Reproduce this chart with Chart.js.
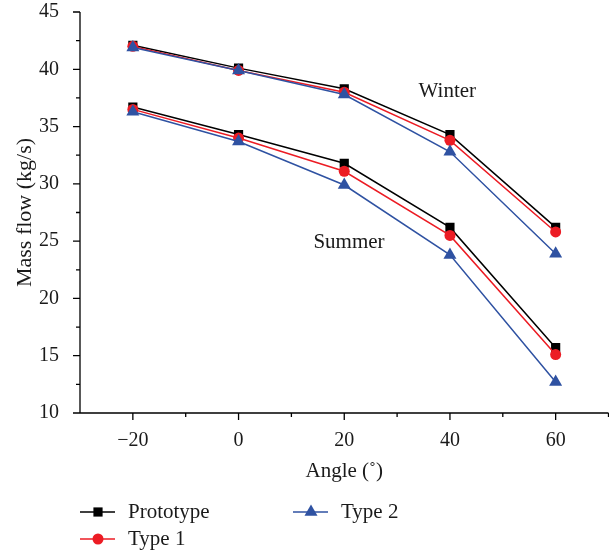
<!DOCTYPE html>
<html>
<head>
<meta charset="utf-8">
<script src="https://cdn.jsdelivr.net/npm/chart.js@4/dist/chart.umd.min.js"></script>
<style>
    html, body { margin: 0; padding: 0; background: #fff; overflow: hidden; }
    #wrap { width: 609px; height: 552px; position: relative; overflow: hidden; }
    #flow-chart { display: block; }
</style>
</head>
<body>
<div id="wrap"><canvas id="flow-chart" width="616" height="552"></canvas></div>
<script>
const angles = [-20, 0, 20, 40, 60];

const winterPrototype = [42.1, 40.1, 38.3, 34.3, 26.2];
const winterType1 = [42.0, 39.9, 38.0, 33.8, 25.8];
const winterType2 = [41.9, 39.9, 37.8, 32.8, 23.9];

const summerPrototype = [36.7, 34.3, 31.8, 26.2, 15.7];
const summerType1 = [36.5, 34.0, 31.1, 25.5, 15.1];
const summerType2 = [36.3, 33.7, 29.9, 23.8, 12.7];

const xTicks = [-30, -20, -10, 0, 10, 20, 30, 40, 50, 60, 70];
const yTicks = [10, 15, 20, 25, 30, 35, 40, 45];

const seasonLabels = [
    { text: 'Winter', x: 39.5, y: 38.1 },
    { text: 'Summer', x: 20.9, y: 24.9 }
];

const FONT = '"Liberation Serif", "Times New Roman", serif';
const BLACK = '#000000';
const RED = '#ec1c24';
const BLUE = '#2f52a2';

const styles = {
    Prototype: { color: BLACK, shape: 'rect', radius: 6.5, order: 2 },
    'Type 1': { color: RED, shape: 'circle', radius: 5.5, order: 1 },
    'Type 2': { color: BLUE, shape: 'triangle', radius: 7.5, order: 0 }
};

function makeSet(name, values) {
    const s = styles[name];
    return {
        label: name,
        data: angles.map((a, i) => ({ x: a, y: values[i] })),
        borderColor: s.color,
        backgroundColor: s.color,
        pointBackgroundColor: s.color,
        pointBorderColor: s.color,
        pointStyle: s.shape,
        pointRadius: s.radius,
        pointBorderWidth: 0,
        borderWidth: 1.5,
        tension: 0,
        order: s.order
    };
}

function minus(v) {
    return v < 0 ? '\u2212' + Math.abs(v) : String(v);
}

// no label overflow padding: the axes sit exactly where the layout puts them
function noPadding(scale) {
    scale.paddingLeft = scale.paddingRight = scale.paddingTop = scale.paddingBottom = 0;
    scale.getPadding = () => ({ left: 0, top: 0, right: 0, bottom: 0 });
}

function drawMarker(ctx, shape, x, y, r, color) {
    ctx.fillStyle = color;
    ctx.beginPath();
    if (shape === 'rect') {
        const h = r * Math.SQRT1_2;
        ctx.rect(x - h, y - h, 2 * h, 2 * h);
    } else if (shape === 'circle') {
        ctx.arc(x, y, r, 0, Math.PI * 2);
    } else {
        const w = r * Math.sqrt(3) / 2;
        ctx.moveTo(x, y - r);
        ctx.lineTo(x + w, y + r / 2);
        ctx.lineTo(x - w, y + r / 2);
        ctx.closePath();
    }
    ctx.fill();
}

const axesPlugin = {
    id: 'axesPlugin',
    afterDraw(chart) {
        const ctx = chart.ctx;
        const xs = chart.scales.x;
        const ys = chart.scales.y;
        const left = xs.left, right = xs.right, bottom = ys.bottom, top = ys.top;
        ctx.save();
        ctx.strokeStyle = '#000';
        ctx.lineWidth = 1.3;
        ctx.beginPath();
        ctx.moveTo(left, top);
        ctx.lineTo(left, bottom);
        ctx.lineTo(right, bottom);
        // x ticks: long on labelled values, short in between
        xTicks.forEach(v => {
            if (v === -30) return;
            const px = xs.getPixelForValue(v);
            const len = (v % 20 === 0 && v !== 70) ? 7 : 4;
            ctx.moveTo(px, bottom);
            ctx.lineTo(px, bottom + len);
        });
        // y ticks (major + minor)
        yTicks.forEach(v => {
            const py = ys.getPixelForValue(v);
            ctx.moveTo(left, py);
            ctx.lineTo(left - 7, py);
            if (v < 45) {
                const pm = ys.getPixelForValue(v + 2.5);
                ctx.moveTo(left, pm);
                ctx.lineTo(left - 4, pm);
            }
        });
        ctx.stroke();

        // season labels
        ctx.fillStyle = '#1a1a1a';
        ctx.font = '21px ' + FONT;
        ctx.textAlign = 'center';
        ctx.textBaseline = 'middle';
        seasonLabels.forEach(l => {
            ctx.fillText(l.text, xs.getPixelForValue(l.x), ys.getPixelForValue(l.y));
        });

        // legend
        const items = [
            { name: 'Prototype', x: 80, y: 512 },
            { name: 'Type 1', x: 80, y: 539 },
            { name: 'Type 2', x: 293, y: 512 }
        ];
        ctx.textAlign = 'left';
        items.forEach(it => {
            const s = styles[it.name];
            ctx.strokeStyle = s.color;
            ctx.lineWidth = 1.5;
            ctx.beginPath();
            ctx.moveTo(it.x, it.y);
            ctx.lineTo(it.x + 35, it.y);
            ctx.stroke();
            drawMarker(ctx, s.shape, it.x + 18, it.y, s.radius, s.color);
            ctx.fillStyle = '#1a1a1a';
            ctx.fillText(it.name, it.x + 48, it.y);
        });
        ctx.restore();
    }
};

const ctx = document.getElementById('flow-chart').getContext('2d');
new Chart(ctx, {
    type: 'line',
    data: {
        datasets: [
            makeSet('Prototype', winterPrototype),
            makeSet('Type 1', winterType1),
            makeSet('Type 2', winterType2),
            makeSet('Prototype', summerPrototype),
            makeSet('Type 1', summerType1),
            makeSet('Type 2', summerType2)
        ]
    },
    options: {
        responsive: false,
        animation: false,
        layout: { padding: { left: 8, top: 12, right: 2, bottom: 64 } },
        plugins: {
            legend: { display: false },
            tooltip: { enabled: false }
        },
        scales: {
            x: {
                type: 'linear',
                min: -30,
                max: 70,
                afterFit: scale => {
                    scale.height = 75;
                    noPadding(scale);
                },
                afterBuildTicks: scale => {
                    scale.ticks = xTicks.map(v => ({ value: v }));
                },
                grid: { display: false },
                border: { display: false },
                ticks: {
                    color: '#1a1a1a',
                    font: { family: FONT, size: 20 },
                    padding: 8,
                    maxRotation: 0,
                    autoSkip: false,
                    callback: v => (v % 20 === 0 && v !== 70 && v !== -30) ? minus(v) : ''
                },
                title: {
                    display: true,
                    text: 'Angle (\u02DA)',
                    color: '#1a1a1a',
                    font: { family: FONT, size: 21 }
                }
            },
            y: {
                min: 10,
                max: 45,
                afterFit: scale => {
                    scale.width = 72;
                    noPadding(scale);
                },
                grid: { display: false },
                border: { display: false },
                ticks: {
                    stepSize: 5,
                    color: '#1a1a1a',
                    font: { family: FONT, size: 20 },
                    padding: 13
                },
                title: {
                    display: true,
                    text: 'Mass flow (kg/s)',
                    color: '#1a1a1a',
                    font: { family: FONT, size: 22 }
                }
            }
        }
    },
    plugins: [axesPlugin]
});
</script>
</body>
</html>
